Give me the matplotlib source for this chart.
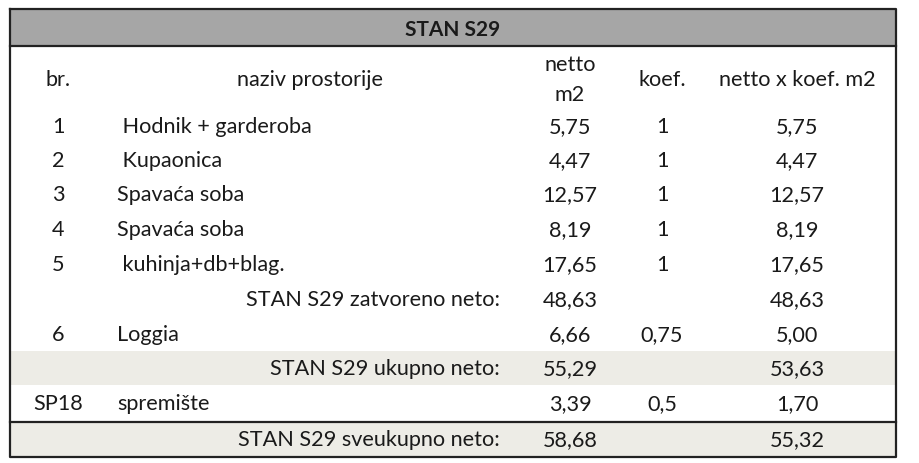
import matplotlib.pyplot as plt
from matplotlib.patches import Rectangle

plt.rcParams['font.family'] = ['Lato', 'DejaVu Sans']

title = "STAN S29"
col_headers = ["br.", "naziv prostorije", "netto\nm2", "koef.", "netto x koef. m2"]

# table rows: (br., naziv, netto, koef, netto x koef)
room_no = ["1", "2", "3", "4", "5", "", "6", "", "SP18", ""]
room_name = [" Hodnik + garderoba", " Kupaonica", "Spavaća soba", "Spavaća soba",
             " kuhinja+db+blag.", "STAN S29 zatvoreno neto:", "Loggia",
             "STAN S29 ukupno neto:", "spremište", "STAN S29 sveukupno neto:"]
netto = ["5,75", "4,47", "12,57", "8,19", "17,65", "48,63", "6,66", "55,29", "3,39", "58,68"]
koef = ["1", "1", "1", "1", "1", "", "0,75", "", "0,5", ""]
netto_koef = ["5,75", "4,47", "12,57", "8,19", "17,65", "48,63", "5,00", "53,63", "1,70", "55,32"]
summary_rows = [5, 7, 9]
shaded_rows = [7, 9]

W, H = 920, 464
fig = plt.figure(figsize=(9.2, 4.64), dpi=100)
ax = fig.add_axes([0, 0, 1, 1])
ax.set_xlim(0, W)
ax.set_ylim(H, 0)
ax.axis('off')

left, right, top, bottom = 10, 896, 10, 458
head_bot = 47
row_y = [127, 161, 195, 230, 265, 300, 335, 369, 404, 440]
row_h = 34.5
col_x = [58, 310, 570, 662, 797]
name_x = 117
summary_x = 500
fs = 15.6
txt = '#1a1a1a'

# title band
ax.add_patch(Rectangle((left, top), right - left, head_bot - top, facecolor='#a6a6a6',
                       edgecolor='none'))
ax.text((left + right) / 2, (top + head_bot) / 2 + 1, title, ha='center', va='center',
        fontsize=15, fontweight='bold', color=txt)

# shaded summary rows
for r in shaded_rows:
    ax.add_patch(Rectangle((left, row_y[r] - row_h / 2), right - left, row_h,
                           facecolor='#edece6', edgecolor='none'))

# lines
lc = '#222222'
ax.plot([left, right, right, left, left], [top, top, bottom, bottom, top], color=lc, lw=1.6)
ax.plot([left, right], [head_bot, head_bot], color=lc, lw=1.6)
ax.plot([left, right], [row_y[9] - row_h / 2, row_y[9] - row_h / 2], color=lc, lw=1.6)

# column headers
ax.text(col_x[0], 80, col_headers[0], ha='center', va='center', fontsize=fs, color=txt)
ax.text(col_x[1], 80, col_headers[1], ha='center', va='center', fontsize=fs, color=txt)
ax.text(col_x[2], 80, col_headers[2], ha='center', va='center', fontsize=fs, color=txt,
        linespacing=1.65)
ax.text(col_x[3], 80, col_headers[3], ha='center', va='center', fontsize=fs, color=txt)
ax.text(col_x[4], 80, col_headers[4], ha='center', va='center', fontsize=fs, color=txt)

for i, y in enumerate(row_y):
    ax.text(col_x[0], y, room_no[i], ha='center', va='center', fontsize=fs, color=txt)
    if i in summary_rows:
        ax.text(summary_x, y, room_name[i], ha='right', va='center', fontsize=fs, color=txt)
    else:
        ax.text(name_x, y, room_name[i], ha='left', va='center', fontsize=fs, color=txt)
    ax.text(col_x[2], y, netto[i], ha='center', va='center', fontsize=fs, color=txt)
    ax.text(col_x[3], y, koef[i], ha='center', va='center', fontsize=fs, color=txt)
    ax.text(col_x[4], y, netto_koef[i], ha='center', va='center', fontsize=fs, color=txt)

fig.savefig('out.png', dpi=100, facecolor='white')
